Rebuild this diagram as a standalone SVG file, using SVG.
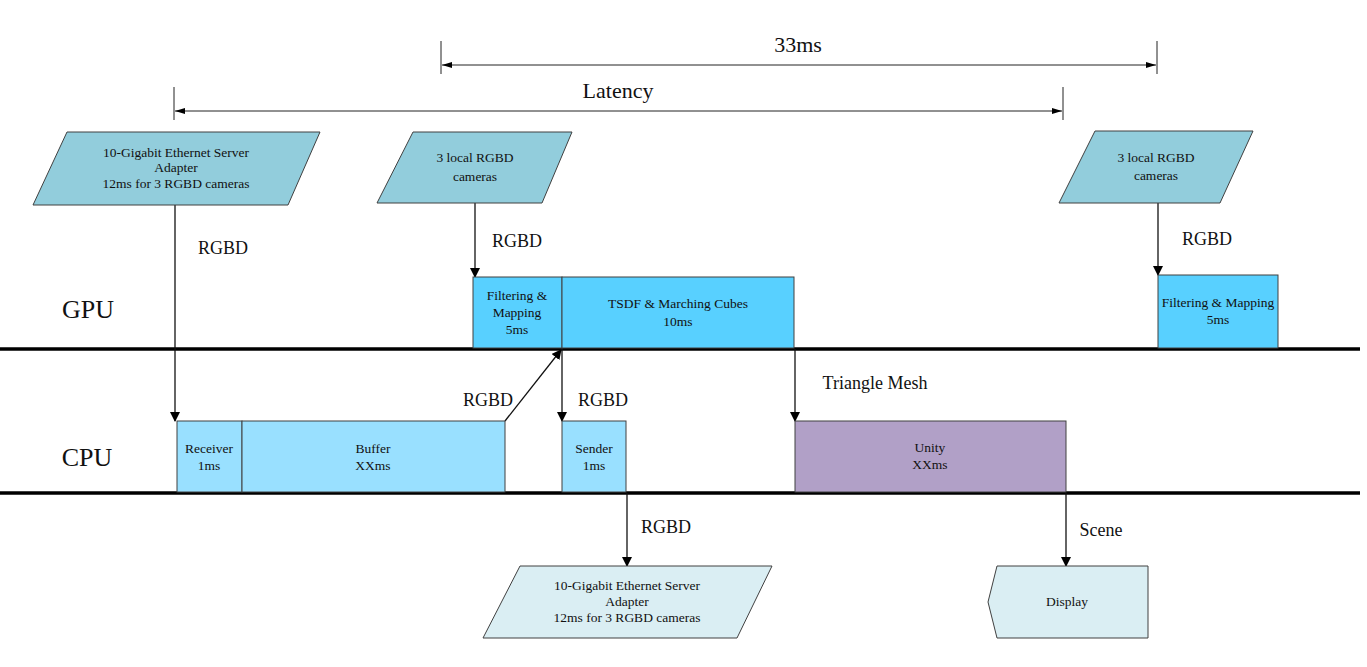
<svg xmlns="http://www.w3.org/2000/svg" width="1367" height="667" viewBox="0 0 1367 667">
<style>
text{font-family:"Liberation Serif","Times New Roman",serif;fill:#111;text-anchor:middle}
.n{font-size:13.5px}
.l{font-size:18px}
.big{font-size:22px}
.lane{font-size:26px}
.par{fill:#92CDDC;stroke:#404040;stroke-width:1}
.parl{fill:#DAEEF3;stroke:#404040;stroke-width:1}
.gpu{fill:#58D0FF;stroke:#404040;stroke-width:1}
.cpu{fill:#99E0FF;stroke:#404040;stroke-width:1}
.uni{fill:#B1A0C7;stroke:#404040;stroke-width:1}
.c{stroke:#111;stroke-width:1.3;fill:none}
.d{stroke:#222;stroke-width:1;fill:none}
.lanel{stroke:#000;stroke-width:3.5}
</style>
<defs>
<marker id="ah" markerWidth="10" markerHeight="10" refX="9" refY="5" orient="auto" markerUnits="userSpaceOnUse"><path d="M0,0 L10,5 L0,10 z" fill="#000"/></marker>
<marker id="ahs" markerWidth="10" markerHeight="6" refX="10" refY="3" orient="auto-start-reverse" markerUnits="userSpaceOnUse"><path d="M0,0 L10,3 L0,6 z" fill="#000"/></marker>
</defs>
<rect width="1367" height="667" fill="#fff"/>

<g id="lanes">
<line class="lanel" x1="0" y1="349" x2="1360" y2="349"/>
<line class="lanel" x1="0" y1="493" x2="1360" y2="493"/>
<text class="lane" x="88" y="318">GPU</text>
<text class="lane" x="87" y="466">CPU</text>
</g>

<g id="dimensions">
<line class="d" x1="441" y1="41" x2="441" y2="74"/>
<line class="d" x1="1157" y1="41" x2="1157" y2="74"/>
<line class="d" x1="442" y1="65" x2="1156" y2="65" marker-start="url(#ahs)" marker-end="url(#ahs)"/>
<text class="big" x="798" y="52">33ms</text>
<line class="d" x1="174" y1="87" x2="174" y2="120"/>
<line class="d" x1="1063" y1="87" x2="1063" y2="120"/>
<line class="d" x1="175" y1="111" x2="1062" y2="111" marker-start="url(#ahs)" marker-end="url(#ahs)"/>
<text class="big" x="618" y="98">Latency</text>
</g>

<g id="connectors">
<line class="c" x1="175" y1="205" x2="175" y2="421" marker-end="url(#ah)"/>
<line class="c" x1="475" y1="203" x2="475" y2="277" marker-end="url(#ah)"/>
<line class="c" x1="1158" y1="203" x2="1158" y2="275" marker-end="url(#ah)"/>
<line class="c" x1="505" y1="421" x2="561" y2="350" marker-end="url(#ah)"/>
<line class="c" x1="562" y1="349" x2="562" y2="421" marker-end="url(#ah)"/>
<line class="c" x1="795" y1="349" x2="795" y2="421" marker-end="url(#ah)"/>
<line class="c" x1="627" y1="493" x2="627" y2="566" marker-end="url(#ah)"/>
<line class="c" x1="1066" y1="493" x2="1066" y2="566" marker-end="url(#ah)"/>
<text class="l" x="223" y="254">RGBD</text>
<text class="l" x="517" y="247">RGBD</text>
<text class="l" x="1207" y="245">RGBD</text>
<text class="l" x="488" y="406">RGBD</text>
<text class="l" x="603" y="406">RGBD</text>
<text class="l" x="875" y="389">Triangle Mesh</text>
<text class="l" x="666" y="533">RGBD</text>
<text class="l" x="1101" y="536">Scene</text>
</g>

<g id="eth-in">
<polygon class="par" points="67,132 320,132 288,205 33,205"/>
<text class="n" x="176" y="157">10-Gigabit Ethernet Server</text>
<text class="n" x="176" y="172">Adapter</text>
<text class="n" x="176" y="188">12ms for 3 RGBD cameras</text>
</g>

<g id="cams-1">
<polygon class="par" points="413,132 572,132 542,203 377,203"/>
<text class="n" x="475" y="162">3 local RGBD</text>
<text class="n" x="475" y="181">cameras</text>
</g>

<g id="cams-2">
<polygon class="par" points="1095,131 1253,131 1220,203 1059,203"/>
<text class="n" x="1156" y="162">3 local RGBD</text>
<text class="n" x="1156" y="180">cameras</text>
</g>

<g id="filter-1">
<rect class="gpu" x="473" y="277" width="89" height="71"/>
<text class="n" x="517" y="300">Filtering &amp;</text>
<text class="n" x="517" y="317">Mapping</text>
<text class="n" x="517" y="334">5ms</text>
</g>

<g id="tsdf">
<rect class="gpu" x="562" y="277" width="232" height="71"/>
<text class="n" x="678" y="308">TSDF &amp; Marching Cubes</text>
<text class="n" x="678" y="326">10ms</text>
</g>

<g id="filter-2">
<rect class="gpu" x="1158" y="275" width="120" height="73"/>
<text class="n" x="1218" y="307">Filtering &amp; Mapping</text>
<text class="n" x="1218" y="324">5ms</text>
</g>

<g id="receiver">
<rect class="cpu" x="177" y="421" width="65" height="71"/>
<text class="n" x="209" y="453">Receiver</text>
<text class="n" x="209" y="470">1ms</text>
</g>

<g id="buffer">
<rect class="cpu" x="242" y="421" width="263" height="71"/>
<text class="n" x="373" y="453">Buffer</text>
<text class="n" x="373" y="470">XXms</text>
</g>

<g id="sender">
<rect class="cpu" x="562" y="421" width="64" height="71"/>
<text class="n" x="594" y="453">Sender</text>
<text class="n" x="594" y="470">1ms</text>
</g>

<g id="unity">
<rect class="uni" x="795" y="421" width="271" height="71"/>
<text class="n" x="930" y="452">Unity</text>
<text class="n" x="930" y="469">XXms</text>
</g>

<g id="eth-out">
<polygon class="parl" points="520,566 772,566 737,638 483,638"/>
<text class="n" x="627" y="590">10-Gigabit Ethernet Server</text>
<text class="n" x="627" y="606">Adapter</text>
<text class="n" x="627" y="622">12ms for 3 RGBD cameras</text>
</g>

<g id="display">
<polygon class="parl" points="997,566 1148,566 1148,638 997,638 988,602"/>
<text class="n" x="1067" y="606">Display</text>
</g>
</svg>
